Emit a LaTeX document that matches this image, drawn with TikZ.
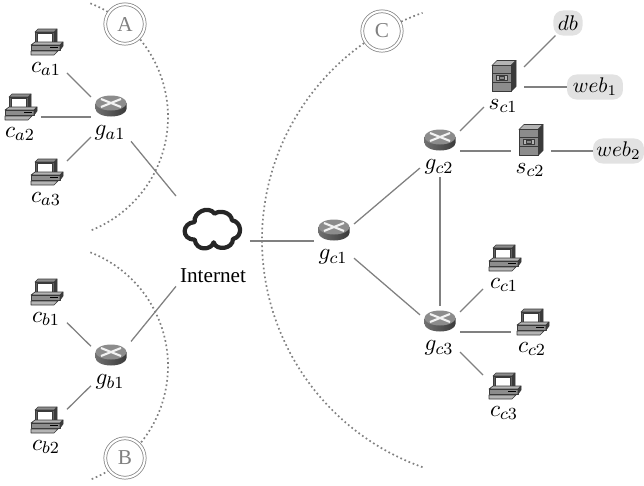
\documentclass[tikz,border=0pt]{standalone}
\usepackage{fontspec}
\setmainfont{Liberation Serif}
\definecolor{edgegray}{HTML}{808080}
\definecolor{icondark}{HTML}{3A3A3A}
\definecolor{iconmid}{HTML}{8C8C8C}
\definecolor{iconlight}{HTML}{B4B4B4}
\definecolor{pillgray}{HTML}{E2E2E2}
\tikzset{
  link/.style={draw=edgegray,line width=0.6pt},
  zonearc/.style={draw=edgegray,line width=0.8pt,dash pattern=on 0.8pt off 1.3pt},
  hubc/.style={inner sep=0pt,outer sep=0pt,minimum width=19.8pt,minimum height=24.5pt},
  hubr/.style={inner sep=0pt,outer sep=0pt,minimum width=18.9pt,minimum height=24.5pt},
  hubcloud/.style={inner sep=0pt,outer sep=0pt,minimum width=34.9pt,minimum height=43.4pt},
  lab/.style={inner sep=0pt,outer sep=0pt,font=\fontsize{11}{13}\selectfont},
  zone/.style={circle,draw=edgegray,double=white,double distance=1pt,line width=0.35pt,fill=white,
    minimum size=18.6pt,inner sep=0pt,text=edgegray},
  pill/.style={fill=pillgray,rounded corners=4.5pt,inner sep=0pt,outer sep=0pt,minimum height=11.8pt},
  iconline/.style={draw=icondark,line width=0.3pt,line join=round},
  computericon/.pic={
    \path[iconline,fill=icondark] (8,-10)--(11,-13)--(11,1)--(8,3)--cycle;
    \path[iconline,fill=iconmid] (-11,-10)--(-8,-13)--(11,-13)--(8,-10)--cycle;
    \path[iconline,fill=iconmid!70!black] (-11,-10) rectangle (8,3);
    \path[iconline,fill=white] (-9,-8.5) rectangle (6,1);
    \path[iconline,fill=iconlight] (-15,3)--(-11,0)--(17,0)--(14,3)--cycle;
    \path[iconline,fill=iconmid] (-15,3) rectangle (14,8);
    \path[iconline,fill=icondark] (14,3)--(17,0)--(17,4)--(14,8)--cycle;
    \draw[black,line width=0.5pt] (4,5.5)--(12,5.5);
    \path[iconline,fill=iconlight] (-15,9)--(12,9)--(8,13)--(-15,13)--cycle;
  },
  routericon/.pic={
    \path[left color=iconmid!80!black,right color=icondark] (-15.5,-3)--(-15.5,3) arc[start angle=180,end angle=0,x radius=15.5,y radius=7.5]--(15.5,-3)--cycle;
    \path[fill=iconmid] (0,-3) ellipse[x radius=15.5,y radius=7.5];
    \draw[white!90!gray,line width=1pt] (-10,-7)--(10,1) (-10,1)--(10,-7);
  },
  servericon/.pic={
    \path[iconline,fill=iconlight] (-12,-10.5)--(-7,-15.5)--(12,-15.5)--(7,-10.5)--cycle;
    \path[iconline,fill=icondark] (7,-10.5)--(12,-15.5)--(12,10.5)--(7,15.5)--cycle;
    \path[iconline,fill=iconmid] (-12,-10.5) rectangle (7,15.5);
    \draw[icondark,line width=0.3pt] (-12,-3)--(7,-3) (-12,6)--(7,6);
    \path[iconline,fill=iconlight] (-8,-1) rectangle (3,4.5);
    \path[iconline,fill=icondark!60] (-5,0.5) rectangle (0,3);
  },
  cloudicon/.pic={
    \draw[draw=black!85,line width=2pt,line join=round,scale=0.3333,shift={(-130,-118)}]
      (75,97) .. controls (70,70) and (115,45) .. (135,72)
      .. controls (150,60) and (185,68) .. (187,92)
      .. controls (215,95) and (222,140) .. (190,148)
      .. controls (190,178) and (140,185) .. (132,158)
      .. controls (125,182) and (80,185) .. (75,150)
      .. controls (35,150) and (35,100) .. (75,97) -- cycle;
  },
}
\newcommand{\compnode}[4]{%
  \node[hubc] (#1) at (#2,#3) {};
  \pic at ({#2},{#3-10}) {computericon};
  \node[lab] (#1l) at ({#2},{#3+17}) {$#4$};}
\newcommand{\routernode}[4]{%
  \node[hubr] (#1) at (#2,#3) {};
  \pic at ({#2},{#3-11}) {routericon};
  \node[lab] (#1l) at ({#2-1},{#3+16}) {$#4$};}
\newcommand{\servernode}[4]{%
  \node[hubr] (#1) at (#2,#3) {};
  \pic at ({#2},{#3-11}) {servericon};
  \node[lab] (#1l) at ({#2-1},{#3+19}) {$#4$};}
\begin{document}
\begin{tikzpicture}[x=0.4717pt,y=-0.4717pt]
\useasboundingbox (0,0) rectangle (644,485);
% zone arcs
\draw[zonearc] plot[domain=-68.7:68.7,samples=70] ({46+122*cos(\x)},{117+122*sin(\x)});
\draw[zonearc] plot[domain=-68.7:68.7,samples=70] ({46+122*cos(\x)},{366+122*sin(\x)});
\draw[zonearc] plot[domain=109.5:250.5,samples=120] ({503+241*cos(\x)},{240+241*sin(\x)});
\node[zone] (zA) at (125,24) {A};
\node[zone] (zB) at (125,458) {B};
\node[zone] (zC) at (382,31) {C};
% devices
\compnode{ca1}{46}{52}{c_{a1}}
\compnode{ca2}{20}{117}{c_{a2}}
\compnode{ca3}{46}{182}{c_{a3}}
\routernode{ga1}{111}{117}{g_{a1}}
\compnode{cb1}{46}{302}{c_{b1}}
\compnode{cb2}{46}{430}{c_{b2}}
\routernode{gb1}{111}{366}{g_{b1}}
\node[hubcloud] (cloud) at (213,241) {};
\pic at (213,229) {cloudicon};
\node[lab,font=\normalsize] (inet) at (213,276) {Internet};
\routernode{gc1}{334}{241}{g_{c1}}
\routernode{gc2}{440}{151}{g_{c2}}
\routernode{gc3}{440}{332}{g_{c3}}
\servernode{sc1}{504}{87}{s_{c1}}
\servernode{sc2}{531}{151}{s_{c2}}
\compnode{cc1}{504}{268}{c_{c1}}
\compnode{cc2}{532}{332}{c_{c2}}
\compnode{cc3}{504}{396}{c_{c3}}
\node[pill,minimum width=13.7pt] (db) at (568,23) {$db$};
\node[pill,minimum width=26.4pt] (web1) at (595,87) {$web_1$};
\node[pill,minimum width=24pt] (web2) at (618.5,151) {$web_2$};
% links
\draw[link] (ca1) -- (ga1);
\draw[link] (ca2) -- (ga1);
\draw[link] (ca3) -- (ga1);
\draw[link] (ga1) -- (cloud);
\draw[link] (cb1) -- (gb1);
\draw[link] (cb2) -- (gb1);
\draw[link] (gb1) -- (cloud);
\draw[link] (cloud) -- (gc1);
\draw[link] (gc1) -- (gc2);
\draw[link] (gc1) -- (gc3);
\draw[link] (gc2) -- (gc3);
\draw[link] (gc2) -- (sc1);
\draw[link] (gc2) -- (sc2);
\draw[link] (sc1) -- (db);
\draw[link] (sc1) -- (web1);
\draw[link] (sc2) -- (web2);
\draw[link] (gc3) -- (cc1);
\draw[link] (gc3) -- (cc2);
\draw[link] (gc3) -- (cc3);
\end{tikzpicture}
\end{document}
